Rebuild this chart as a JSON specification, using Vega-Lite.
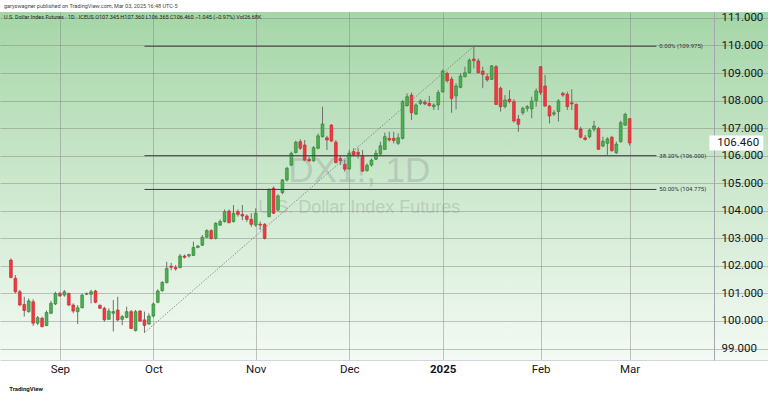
{
"$schema": "https://vega.github.io/schema/vega-lite/v6.json",
"width": 768, "height": 348,
"autosize": {"type": "none"},
"padding": {"left": 0, "right": 0, "top": 12, "bottom": 37},
"background": "white",
"title": {"text": "garyswagner published on TradingView.com, Mar 03, 2025 16:48 UTC-5", "subtitle": "U.S. Dollar Index Futures · 1D · ICEUS   O107.345  H107.360  L106.365  C106.460  −1.045 (−0.97%)   Vol26.68K", "anchor": "start", "frame": "group", "fontSize": 5.5, "fontWeight": "normal", "color": "#444", "subtitleFontSize": 5.5, "subtitleColor": "#222", "subtitlePadding": 6, "offset": -9, "dx": 4, "font": "Roboto", "subtitleFont": "Roboto"},
"datasets": {
"bars": [
{"d":"2024-08-16","i":1,"o":102.21,"h":102.27,"l":101.55,"c":101.58},
{"d":"2024-08-19","i":2,"o":101.55,"h":101.67,"l":101.00,"c":101.06},
{"d":"2024-08-20","i":3,"o":101.06,"h":101.13,"l":100.54,"c":100.58},
{"d":"2024-08-21","i":4,"o":100.60,"h":100.88,"l":100.16,"c":100.38},
{"d":"2024-08-22","i":5,"o":100.34,"h":100.82,"l":100.30,"c":100.73},
{"d":"2024-08-23","i":6,"o":100.70,"h":100.79,"l":99.82,"c":99.92},
{"d":"2024-08-26","i":7,"o":99.92,"h":100.18,"l":99.85,"c":100.12},
{"d":"2024-08-27","i":8,"o":100.10,"h":100.16,"l":99.77,"c":99.79},
{"d":"2024-08-28","i":9,"o":99.83,"h":100.38,"l":99.82,"c":100.31},
{"d":"2024-08-29","i":10,"o":100.28,"h":100.73,"l":100.25,"c":100.64},
{"d":"2024-08-30","i":11,"o":100.62,"h":101.06,"l":100.58,"c":101.00},
{"d":"2024-09-02","i":12,"o":101.00,"h":101.06,"l":100.88,"c":100.91},
{"d":"2024-09-03","i":13,"o":100.94,"h":101.13,"l":100.88,"c":101.06},
{"d":"2024-09-04","i":14,"o":101.00,"h":101.03,"l":100.54,"c":100.58},
{"d":"2024-09-05","i":15,"o":100.58,"h":100.64,"l":100.28,"c":100.36},
{"d":"2024-09-06","i":16,"o":100.34,"h":100.58,"l":99.89,"c":100.48},
{"d":"2024-09-09","i":17,"o":100.48,"h":101.00,"l":100.46,"c":100.94},
{"d":"2024-09-10","i":18,"o":100.97,"h":101.03,"l":100.94,"c":101.00},
{"d":"2024-09-11","i":19,"o":100.97,"h":101.13,"l":100.64,"c":101.06},
{"d":"2024-09-12","i":20,"o":101.09,"h":101.13,"l":100.64,"c":100.68},
{"d":"2024-09-13","i":21,"o":100.57,"h":100.60,"l":100.44,"c":100.46},
{"d":"2024-09-16","i":22,"o":100.46,"h":100.52,"l":99.98,"c":100.04},
{"d":"2024-09-17","i":23,"o":100.06,"h":100.46,"l":100.04,"c":100.36},
{"d":"2024-09-18","i":24,"o":100.28,"h":100.76,"l":99.62,"c":100.34},
{"d":"2024-09-19","i":25,"o":100.40,"h":100.88,"l":99.98,"c":100.04},
{"d":"2024-09-20","i":26,"o":100.06,"h":100.22,"l":99.85,"c":100.16},
{"d":"2024-09-23","i":27,"o":100.13,"h":100.52,"l":100.10,"c":100.34},
{"d":"2024-09-24","i":28,"o":100.34,"h":100.40,"l":99.70,"c":99.73},
{"d":"2024-09-25","i":29,"o":99.65,"h":100.40,"l":99.62,"c":100.34},
{"d":"2024-09-26","i":30,"o":100.36,"h":100.40,"l":99.96,"c":100.00},
{"d":"2024-09-27","i":31,"o":100.04,"h":100.34,"l":99.575,"c":99.84},
{"d":"2024-09-30","i":32,"o":99.89,"h":100.28,"l":99.86,"c":100.18},
{"d":"2024-10-01","i":33,"o":100.18,"h":100.67,"l":100.13,"c":100.62},
{"d":"2024-10-02","i":34,"o":100.68,"h":101.15,"l":100.64,"c":101.09},
{"d":"2024-10-03","i":35,"o":101.10,"h":101.45,"l":101.06,"c":101.40},
{"d":"2024-10-04","i":36,"o":101.39,"h":102.15,"l":101.37,"c":101.91},
{"d":"2024-10-07","i":37,"o":101.99,"h":102.11,"l":101.84,"c":101.95},
{"d":"2024-10-08","i":38,"o":101.94,"h":102.03,"l":101.83,"c":101.89},
{"d":"2024-10-09","i":39,"o":101.94,"h":102.43,"l":101.91,"c":102.36},
{"d":"2024-10-10","i":40,"o":102.36,"h":102.41,"l":102.27,"c":102.31},
{"d":"2024-10-11","i":41,"o":102.36,"h":102.44,"l":102.30,"c":102.41},
{"d":"2024-10-14","i":42,"o":102.38,"h":102.88,"l":102.36,"c":102.67},
{"d":"2024-10-15","i":43,"o":102.67,"h":102.76,"l":102.64,"c":102.72},
{"d":"2024-10-16","i":44,"o":102.75,"h":103.12,"l":102.72,"c":103.04},
{"d":"2024-10-17","i":45,"o":103.04,"h":103.33,"l":103.00,"c":103.28},
{"d":"2024-10-18","i":46,"o":103.28,"h":103.33,"l":102.96,"c":102.99},
{"d":"2024-10-21","i":47,"o":103.00,"h":103.58,"l":102.96,"c":103.55},
{"d":"2024-10-22","i":48,"o":103.48,"h":103.69,"l":103.45,"c":103.61},
{"d":"2024-10-23","i":49,"o":103.61,"h":104.05,"l":103.57,"c":103.97},
{"d":"2024-10-24","i":50,"o":103.99,"h":104.05,"l":103.54,"c":103.57},
{"d":"2024-10-25","i":51,"o":103.61,"h":104.21,"l":103.57,"c":103.91},
{"d":"2024-10-28","i":52,"o":103.97,"h":104.05,"l":103.79,"c":103.87},
{"d":"2024-10-29","i":53,"o":103.87,"h":104.21,"l":103.66,"c":103.81},
{"d":"2024-10-30","i":54,"o":103.81,"h":103.87,"l":103.60,"c":103.69},
{"d":"2024-10-31","i":55,"o":103.69,"h":103.91,"l":103.42,"c":103.51},
{"d":"2024-11-01","i":56,"o":103.48,"h":104.09,"l":103.42,"c":103.91},
{"d":"2024-11-04","i":57,"o":103.51,"h":103.61,"l":103.30,"c":103.48},
{"d":"2024-11-05","i":58,"o":103.51,"h":103.55,"l":102.96,"c":103.00},
{"d":"2024-11-06","i":59,"o":103.79,"h":104.82,"l":103.76,"c":104.75},
{"d":"2024-11-07","i":60,"o":104.82,"h":104.88,"l":103.88,"c":103.91},
{"d":"2024-11-08","i":61,"o":104.03,"h":104.60,"l":103.98,"c":104.54},
{"d":"2024-11-11","i":62,"o":104.66,"h":105.15,"l":104.60,"c":105.12},
{"d":"2024-11-12","i":63,"o":105.12,"h":105.60,"l":105.06,"c":105.54},
{"d":"2024-11-13","i":64,"o":105.66,"h":106.15,"l":105.62,"c":106.09},
{"d":"2024-11-14","i":65,"o":106.11,"h":106.55,"l":106.08,"c":106.49},
{"d":"2024-11-15","i":66,"o":106.51,"h":106.60,"l":106.21,"c":106.27},
{"d":"2024-11-18","i":67,"o":106.39,"h":106.57,"l":105.82,"c":105.84},
{"d":"2024-11-19","i":68,"o":105.87,"h":105.97,"l":105.78,"c":105.81},
{"d":"2024-11-20","i":69,"o":105.81,"h":106.35,"l":105.78,"c":106.29},
{"d":"2024-11-21","i":70,"o":106.27,"h":106.81,"l":106.23,"c":106.72},
{"d":"2024-11-22","i":71,"o":106.69,"h":107.78,"l":106.66,"c":107.15},
{"d":"2024-11-25","i":72,"o":106.65,"h":106.72,"l":106.21,"c":106.57},
{"d":"2024-11-26","i":73,"o":107.11,"h":107.15,"l":106.51,"c":106.53},
{"d":"2024-11-27","i":74,"o":106.49,"h":106.57,"l":105.72,"c":105.75},
{"d":"2024-11-28","i":75,"o":105.90,"h":106.02,"l":105.66,"c":105.82},
{"d":"2024-11-29","i":76,"o":105.69,"h":105.85,"l":105.42,"c":105.51},
{"d":"2024-12-02","i":77,"o":105.52,"h":106.21,"l":105.48,"c":106.09},
{"d":"2024-12-03","i":78,"o":106.15,"h":106.27,"l":105.97,"c":106.03},
{"d":"2024-12-04","i":79,"o":106.12,"h":106.27,"l":105.90,"c":106.05},
{"d":"2024-12-05","i":80,"o":105.99,"h":106.21,"l":105.42,"c":105.44},
{"d":"2024-12-06","i":81,"o":105.46,"h":105.72,"l":105.42,"c":105.65},
{"d":"2024-12-09","i":82,"o":105.66,"h":105.90,"l":105.60,"c":105.84},
{"d":"2024-12-10","i":83,"o":105.87,"h":106.21,"l":105.84,"c":106.09},
{"d":"2024-12-11","i":84,"o":106.06,"h":106.51,"l":106.02,"c":106.36},
{"d":"2024-12-12","i":85,"o":106.23,"h":106.84,"l":106.21,"c":106.69},
{"d":"2024-12-13","i":86,"o":106.63,"h":106.87,"l":106.51,"c":106.57},
{"d":"2024-12-16","i":87,"o":106.63,"h":106.87,"l":106.45,"c":106.55},
{"d":"2024-12-17","i":88,"o":106.45,"h":106.81,"l":106.39,"c":106.65},
{"d":"2024-12-18","i":89,"o":106.63,"h":108.02,"l":106.59,"c":107.96},
{"d":"2024-12-19","i":90,"o":107.82,"h":108.26,"l":107.78,"c":108.14},
{"d":"2024-12-20","i":91,"o":108.20,"h":108.29,"l":107.30,"c":107.56},
{"d":"2024-12-23","i":92,"o":107.51,"h":107.90,"l":107.48,"c":107.84},
{"d":"2024-12-24","i":93,"o":107.90,"h":108.05,"l":107.84,"c":107.99},
{"d":"2024-12-26","i":94,"o":107.94,"h":108.02,"l":107.83,"c":107.88},
{"d":"2024-12-27","i":95,"o":107.90,"h":108.17,"l":107.78,"c":107.82},
{"d":"2024-12-30","i":96,"o":107.78,"h":107.90,"l":107.66,"c":107.84},
{"d":"2024-12-31","i":97,"o":107.84,"h":108.38,"l":107.66,"c":108.29},
{"d":"2025-01-02","i":98,"o":108.32,"h":109.13,"l":108.29,"c":109.07},
{"d":"2025-01-03","i":99,"o":108.99,"h":109.05,"l":108.65,"c":108.72},
{"d":"2025-01-06","i":100,"o":108.78,"h":108.87,"l":107.56,"c":108.08},
{"d":"2025-01-07","i":101,"o":108.17,"h":108.63,"l":107.68,"c":108.53},
{"d":"2025-01-08","i":102,"o":108.48,"h":108.99,"l":108.45,"c":108.89},
{"d":"2025-01-09","i":103,"o":108.87,"h":109.23,"l":108.84,"c":109.01},
{"d":"2025-01-10","i":104,"o":109.01,"h":109.53,"l":108.99,"c":109.47},
{"d":"2025-01-13","i":105,"o":109.51,"h":109.975,"l":109.17,"c":109.45},
{"d":"2025-01-14","i":106,"o":109.44,"h":109.53,"l":108.99,"c":109.01},
{"d":"2025-01-15","i":107,"o":109.07,"h":109.23,"l":108.45,"c":108.95},
{"d":"2025-01-16","i":108,"o":108.87,"h":108.99,"l":108.69,"c":108.75},
{"d":"2025-01-17","i":109,"o":108.77,"h":109.29,"l":108.75,"c":109.26},
{"d":"2025-01-20","i":110,"o":109.23,"h":109.29,"l":107.84,"c":107.86},
{"d":"2025-01-21","i":111,"o":108.45,"h":108.51,"l":107.60,"c":107.78},
{"d":"2025-01-22","i":112,"o":107.78,"h":108.20,"l":107.72,"c":108.02},
{"d":"2025-01-23","i":113,"o":108.05,"h":108.38,"l":107.90,"c":107.96},
{"d":"2025-01-24","i":114,"o":107.96,"h":108.05,"l":107.20,"c":107.26},
{"d":"2025-01-27","i":115,"o":107.33,"h":107.48,"l":106.87,"c":107.14},
{"d":"2025-01-28","i":116,"o":107.56,"h":107.78,"l":107.48,"c":107.72},
{"d":"2025-01-29","i":117,"o":107.72,"h":107.84,"l":107.60,"c":107.78},
{"d":"2025-01-30","i":118,"o":107.70,"h":108.14,"l":107.36,"c":107.99},
{"d":"2025-01-31","i":119,"o":108.00,"h":108.44,"l":107.78,"c":108.35},
{"d":"2025-02-03","i":120,"o":109.23,"h":109.25,"l":108.20,"c":108.29},
{"d":"2025-02-04","i":121,"o":108.53,"h":108.93,"l":107.78,"c":107.80},
{"d":"2025-02-05","i":122,"o":107.80,"h":107.84,"l":107.17,"c":107.44},
{"d":"2025-02-06","i":123,"o":107.51,"h":107.66,"l":107.44,"c":107.56},
{"d":"2025-02-07","i":124,"o":107.60,"h":108.05,"l":107.24,"c":107.99},
{"d":"2025-02-10","i":125,"o":108.26,"h":108.32,"l":108.14,"c":108.20},
{"d":"2025-02-11","i":126,"o":108.23,"h":108.32,"l":107.66,"c":107.78},
{"d":"2025-02-12","i":127,"o":107.92,"h":108.41,"l":107.66,"c":107.88},
{"d":"2025-02-13","i":128,"o":107.86,"h":107.90,"l":106.93,"c":106.96},
{"d":"2025-02-14","i":129,"o":106.97,"h":107.05,"l":106.63,"c":106.67},
{"d":"2025-02-17","i":130,"o":106.65,"h":106.75,"l":106.55,"c":106.59},
{"d":"2025-02-18","i":131,"o":106.69,"h":106.99,"l":106.63,"c":106.93},
{"d":"2025-02-19","i":132,"o":106.96,"h":107.27,"l":106.87,"c":107.08},
{"d":"2025-02-20","i":133,"o":106.99,"h":107.05,"l":106.21,"c":106.23},
{"d":"2025-02-21","i":134,"o":106.35,"h":106.69,"l":106.30,"c":106.53},
{"d":"2025-02-24","i":135,"o":106.45,"h":106.67,"l":106.03,"c":106.61},
{"d":"2025-02-25","i":136,"o":106.67,"h":106.72,"l":106.15,"c":106.18},
{"d":"2025-02-26","i":137,"o":106.11,"h":106.51,"l":106.06,"c":106.42},
{"d":"2025-02-27","i":138,"o":106.51,"h":107.27,"l":106.47,"c":107.20},
{"d":"2025-02-28","i":139,"o":107.11,"h":107.56,"l":107.08,"c":107.50},
{"d":"2025-03-03","i":140,"o":107.345,"h":107.36,"l":106.365,"c":106.46}
],
"fib": [
{"level":109.975,"label":"0.00% (109.975)","x0":31,"x1":146},
{"level":106.0,"label":"38.20% (106.000)","x0":31,"x1":146},
{"level":104.775,"label":"50.00% (104.775)","x0":31,"x1":146}
],
"trend": [{"i":31,"p":99.575},{"i":105,"p":109.975}],
"last": [{"i":140,"c":106.46}],
"wm": [{"big":"DX1!, 1D","small":"U.S. Dollar Index Futures","logo":"TradingView"}]
},
"layer": [
{"data": {"name": "wm"},
 "mark": {"type": "text", "align": "center", "baseline": "alphabetic", "fontSize": 35, "font": "Liberation Sans", "color": "#787b86", "opacity": 0.25},
 "encoding": {
  "x": {"datum": 79.27, "type": "quantitative"},
  "y": {"datum": 105.05, "type": "quantitative"},
  "text": {"field": "big"}
 }},
{"data": {"name": "wm"},
 "mark": {"type": "text", "align": "center", "baseline": "alphabetic", "fontSize": 18, "font": "Liberation Sans", "color": "#787b86", "opacity": 0.25},
 "encoding": {
  "x": {"datum": 79.27, "type": "quantitative"},
  "y": {"datum": 103.92, "type": "quantitative"},
  "text": {"field": "small"}
 }},
{"data": {"name": "bars"},
 "mark": {"type": "rule", "color": "#6f6f6f", "strokeWidth": 1},
 "encoding": {
  "x": {"field": "i", "type": "quantitative", "title": null, "scale": {"domain": [-0.33, 169.96], "nice": false, "zero": false},
        "axis": {"values": [12,33,56,77,98,120,140], "title": null, "labelExpr": "datum.value==12?'Sep':datum.value==33?'Oct':datum.value==56?'Nov':datum.value==77?'Dec':datum.value==98?'2025':datum.value==120?'Feb':'Mar'",
                 "labelFontWeight": {"condition": {"test": "datum.value==98", "value": "bold"}, "value": "normal"},
                 "grid": true, "gridColor": "#808080", "gridOpacity": 0.45, "ticks": false, "tickSize": 0, "labelPadding": 3, "labelFontSize": 11.5, "labelFont": "Roboto", "labelColor": "#131722", "domainColor": "#d1d4dc", "labelFlush": false, "labelOverlap": false}},
  "y": {"field": "l", "type": "quantitative", "title": null, "scale": {"domain": [98.584, 111.216], "nice": false, "zero": false},
        "axis": {"orient": "right", "offset": -54, "values": [99,100,101,102,103,104,105,106,107,108,109,110,111], "format": ".3f", "title": null,
                 "grid": true, "gridColor": "#808080", "gridOpacity": 0.45, "ticks": false, "tickSize": 0, "labelPadding": 7, "labelFontSize": 11.5, "labelFont": "Roboto", "labelColor": "#131722", "domainColor": "#a3a6af", "labelOverlap": false, "labelSeparation": 0}},
  "y2": {"field": "h"}
 }},
{"data": {"name": "bars"},
 "mark": {"type": "bar", "size": 2.8, "strokeWidth": 0.6},
 "encoding": {
  "x": {"field": "i", "type": "quantitative", "title": null},
  "y": {"field": "o", "type": "quantitative", "title": null},
  "y2": {"field": "c"},
  "fill": {"condition": {"test": "datum.c >= datum.o", "value": "#4caf50"}, "value": "#f23645"},
  "stroke": {"condition": {"test": "datum.c >= datum.o", "value": "#2e7d32"}, "value": "#c62828"}
 }},
{"data": {"name": "fib"},
 "mark": {"type": "rule", "color": "#3a3a3a", "strokeWidth": 1},
 "encoding": {
  "x": {"field": "x0", "type": "quantitative", "title": null},
  "x2": {"field": "x1"},
  "y": {"field": "level", "type": "quantitative", "title": null}
 }},
{"data": {"name": "fib"},
 "mark": {"type": "text", "align": "left", "baseline": "middle", "dx": 3, "fontSize": 6, "font": "Roboto", "color": "#333"},
 "encoding": {
  "x": {"field": "x1", "type": "quantitative", "title": null},
  "y": {"field": "level", "type": "quantitative", "title": null},
  "text": {"field": "label"}
 }},
{"data": {"name": "trend"},
 "mark": {"type": "line", "color": "#7a7a7a", "strokeWidth": 0.8, "strokeDash": [1.5, 1.5]},
 "encoding": {
  "x": {"field": "i", "type": "quantitative", "title": null},
  "y": {"field": "p", "type": "quantitative", "title": null}
 }},
{"data": {"name": "wm"},
 "mark": {"type": "text", "align": "left", "baseline": "middle", "fontSize": 6, "fontWeight": "bold", "font": "Roboto", "color": "#131722"},
 "encoding": {
  "x": {"datum": 0.6, "type": "quantitative"},
  "y": {"datum": 97.53, "type": "quantitative"},
  "text": {"field": "logo"}
 }},
{"data": {"name": "last"},
 "mark": {"type": "tick", "orient": "horizontal", "size": 54, "thickness": 15, "color": "#ffffff", "opacity": 1},
 "encoding": {
  "x": {"datum": 163.97, "type": "quantitative"},
  "y": {"field": "c", "type": "quantitative", "title": null}
 }},
{"data": {"name": "last"},
 "mark": {"type": "text", "align": "left", "baseline": "middle", "fontSize": 11.5, "font": "Roboto", "color": "#131722"},
 "encoding": {
  "x": {"datum": 159.7, "type": "quantitative"},
  "y": {"field": "c", "type": "quantitative", "title": null},
  "text": {"field": "c", "format": ".3f"}
 }}
],
"config": {
 "view": {"stroke": null, "fill": {"gradient": "linear", "x1": 0, "y1": 0, "x2": 0, "y2": 1, "stops": [{"offset": 0, "color": "#a5d6a7"}, {"offset": 1, "color": "#f4faf4"}]}},
 "font": "Roboto",
 "axis": {"labelOverlap": false, "labelSeparation": 0},
 "axisY": {"labelOverlap": false},
 "axisQuantitative": {"labelOverlap": false, "tickCount": 13}
}
}
